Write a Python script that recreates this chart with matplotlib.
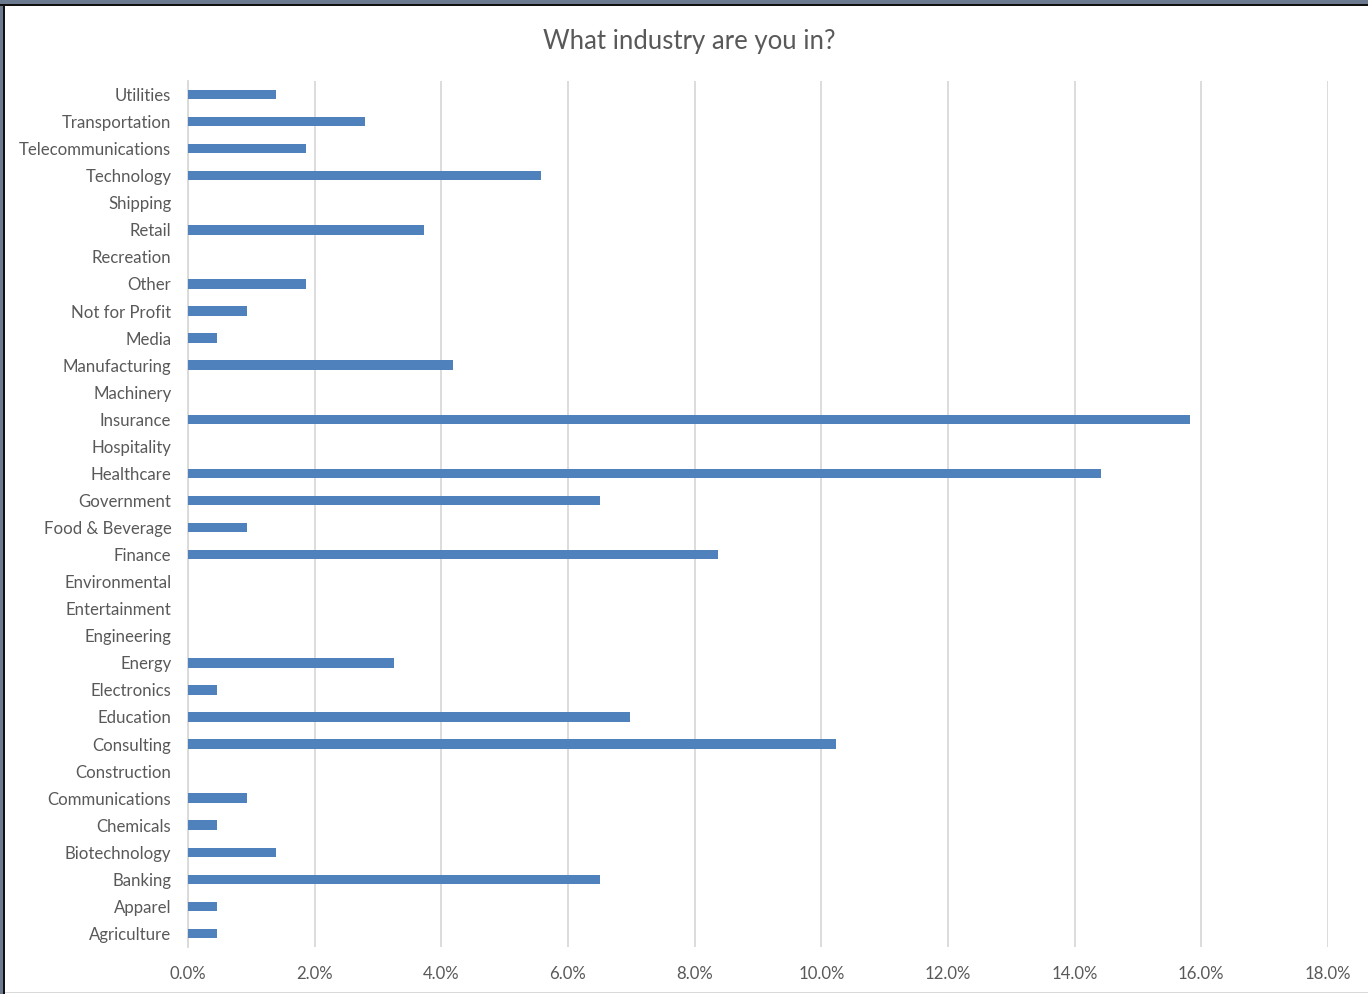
import matplotlib
matplotlib.use("Agg")
import matplotlib.pyplot as plt
from matplotlib.patches import Rectangle
from matplotlib.ticker import FuncFormatter, MultipleLocator

categories = [
    "Agriculture", "Apparel", "Banking", "Biotechnology", "Chemicals",
    "Communications", "Construction", "Consulting", "Education", "Electronics",
    "Energy", "Engineering", "Entertainment", "Environmental", "Finance",
    "Food & Beverage", "Government", "Healthcare", "Hospitality", "Insurance",
    "Machinery", "Manufacturing", "Media", "Not for Profit", "Other",
    "Recreation", "Retail", "Shipping", "Technology", "Telecommunications",
    "Transportation", "Utilities",
]
counts = [1, 1, 14, 3, 1, 2, 0, 22, 15, 1, 7, 0, 0, 0, 18, 2, 14, 31, 0, 34,
          0, 9, 1, 2, 4, 0, 8, 0, 12, 4, 6, 3]
total = 215
percent = [c / total * 100 for c in counts]

title = "What industry are you in?"
bar_color = "#4F81BD"
text_color = "#595959"
grid_color = "#D9D9D9"

plt.rcParams["font.family"] = ["Lato", "DejaVu Sans"]

W, H = 1368, 994
fig = plt.figure(figsize=(W / 100, H / 100), dpi=100)
fig.patch.set_facecolor("white")

# screenshot frame
fig.patches.append(Rectangle((0, 1 - 4 / H), 1, 4 / H, transform=fig.transFigure,
                             facecolor="#6B7A8F", edgecolor="none", zorder=0))
fig.patches.append(Rectangle((0, 0), 3 / W, 1, transform=fig.transFigure,
                             facecolor="#6B7A8F", edgecolor="none", zorder=0))
fig.patches.append(Rectangle((0, 1 - 6 / H), 1, 2 / H, transform=fig.transFigure,
                             facecolor="#111111", edgecolor="none", zorder=1))
fig.patches.append(Rectangle((3 / W, 0), 2 / W, 1 - 4 / H, transform=fig.transFigure,
                             facecolor="#111111", edgecolor="none", zorder=1))
fig.patches.append(Rectangle((5 / W, 1 / H), 1 - 5 / W, 1.5 / H, transform=fig.transFigure,
                             facecolor="#D9D9D9", edgecolor="none", zorder=1))

left, right, top, bottom = 188, 1328, 81, 947
ax = fig.add_axes([left / W, 1 - bottom / H, (right - left) / W, (bottom - top) / H])
y = list(range(len(categories)))
ax.barh(y, percent, height=0.35, color=bar_color, zorder=3)

ax.set_xlim(0, 18)
ax.set_ylim(-0.5, len(categories) - 0.5)
ax.xaxis.set_major_locator(MultipleLocator(2))
ax.xaxis.set_major_formatter(FuncFormatter(lambda v, p: f"{v:.1f}%"))
ax.set_yticks(y)
ax.set_yticklabels(categories)
ax.tick_params(axis="both", length=0, colors=text_color, labelsize=12.1)
ax.tick_params(axis="y", pad=12)
ax.tick_params(axis="x", pad=13.5)
ax.grid(axis="x", color=grid_color, linewidth=1.3, zorder=0)
for s in ["top", "right", "bottom"]:
    ax.spines[s].set_visible(False)
ax.spines["left"].set_color(grid_color)
ax.spines["left"].set_linewidth(1.3)

fig.text(689.5 / W, 1 - 41 / H, title, ha="center", va="center",
         fontsize=18.5, color=text_color)
fig.savefig("out.png", dpi=100)
